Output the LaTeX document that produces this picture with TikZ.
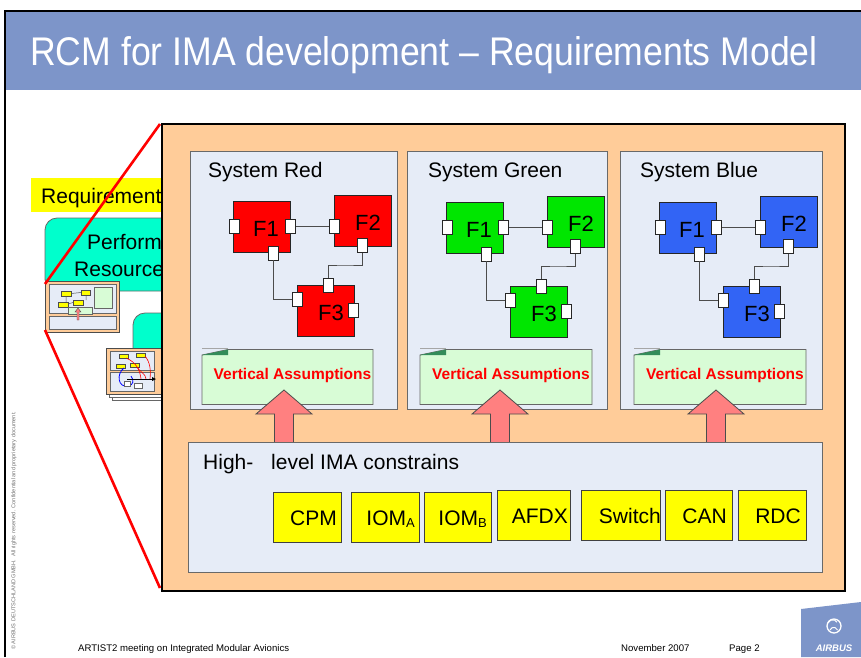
\documentclass[tikz,border=0pt]{standalone}
\usepackage{fontspec}
\setmainfont{Liberation Sans}
\usetikzlibrary{calc}

\definecolor{titleblue}{RGB}{125,149,201}
\definecolor{peach}{RGB}{255,204,153}
\definecolor{panelbg}{RGB}{230,236,247}
\definecolor{panelline}{RGB}{105,105,105}
\definecolor{fred}{RGB}{255,0,0}
\definecolor{fgreen}{RGB}{0,230,0}
\definecolor{fblue}{RGB}{50,100,245}
\definecolor{notegreen}{RGB}{216,252,214}
\definecolor{foldgreen}{RGB}{51,140,90}
\definecolor{arrowpink}{RGB}{255,128,128}
\definecolor{cyanbox}{RGB}{0,255,204}
\definecolor{yellowbox}{RGB}{255,255,0}

\newcommand{\fsz}[1]{\fontsize{#1}{#1}\selectfont}
\newcommand{\subidx}[1]{\raisebox{-0.1em}{\fsz{13}#1}}

\begin{document}
\begin{tikzpicture}[x=1pt,y=-1pt,
  panel/.style={draw=panelline, fill=panelbg, line width=0.8pt},
  fbox/.style={draw=black!85, line width=0.8pt, minimum width=57pt, minimum height=51pt, inner sep=0pt},
  port/.style={draw=black!85, fill=white, line width=0.6pt, minimum width=10pt, minimum height=14pt, inner sep=0pt},
  wire/.style={draw=black!70, line width=0.8pt},
  lbl/.style={font=\fsz{21}, inner sep=0pt, anchor=base west},
  flbl/.style={font=\fsz{22}, inner sep=0pt, anchor=base},
  ylbl/.style={font=\fsz{21}, inner sep=0pt, anchor=base east},
  ybox/.style={draw=black!75, fill=yellowbox, line width=0.8pt},
  notebody/.style={draw=black!60, fill=notegreen, line width=0.8pt},
  uparrow/.style={draw=black!70, fill=arrowpink, line width=0.8pt, line join=miter},
  zoomline/.style={draw=red, line width=2.6pt},
  foot/.style={font=\fsz{9.6}, inner sep=0pt, anchor=base west}
]
\useasboundingbox (0,0) rectangle (861,657);
\fill[white] (0,0) rectangle (861,657);

% slide frame and title bar
\fill[titleblue] (6,12) rectangle (861,90);
\draw[black, line width=2pt] (5,657) -- (5,11) -- (861,11);
\node[anchor=base west, inner sep=0pt, text=white, font=\fsz{40}] (title) at (30,65)
  {\scalebox{0.89}[1]{RCM for IMA development – Requirements Model}};

% --- overview diagram behind the zoomed view ---
\fill[yellowbox] (31,178) rectangle (170,212);
\node[lbl] (req) at (41,203.5) {Requirement};
\draw[draw=black!60, fill=cyanbox, line width=0.8pt, rounded corners=12pt] (45,218) rectangle (200,291);
\node[lbl] (perf) at (87,249.5) {Perform};
\node[lbl] (res) at (74,276.5) {Resource};
\draw[draw=black!60, fill=cyanbox, line width=0.8pt, rounded corners=12pt] (133,313) rectangle (200,392);

% small view of the requirements model
\draw[draw=black!70, fill=peach, line width=0.8pt] (45,281) rectangle (119,332);
\draw[draw=black!60, fill=panelbg, line width=0.5pt] (49,284) rectangle (116,313);
\draw[draw=black!60, fill=panelbg, line width=0.5pt] (49,316) rectangle (116,329);
\draw[black!70, line width=0.5pt] (71,293.5) -- (81,292.5) (66,296) -- (66,304.5) -- (73,302.5) (86,295) -- (86,300);
\foreach \a/\b/\c/\d in {61/291/71/296, 81/290/90/295, 58/302/68/307, 73/300/83/305}
  \draw[draw=black!70, fill=yellowbox, line width=0.5pt] (\a,\b) rectangle (\c,\d);
\draw[draw=black!60, fill=notegreen, line width=0.5pt] (94,287) rectangle (112,308);
\draw[draw=black!60, fill=notegreen, line width=0.5pt] (68,307) rectangle (92,314);
\draw[draw=black!70, fill=arrowpink, line width=0.4pt] (78,308) -- (81,312) -- (79,312) -- (79,320) -- (77,320) -- (77,312) -- (75,312) -- cycle;

% yellow label peeking out
\fill[yellowbox] (155,363) rectangle (170,383);

% small view of the component model (stack of sheets)
\draw[draw=black!60, fill=white, line width=0.5pt] (112,354) rectangle (171,400);
\draw[draw=black!60, fill=white, line width=0.5pt] (109,351) rectangle (168,397);
\draw[draw=black!70, fill=peach, line width=0.8pt] (106,348) rectangle (165,394);
\draw[draw=black!60, fill=panelbg, line width=0.5pt] (110,351) rectangle (154,370);
\draw[draw=black!60, fill=panelbg, line width=0.5pt] (110,372) rectangle (154,391);
\foreach \a/\b/\c/\d in {119/354/128/358, 136/353/145/357, 116/364/125/368, 130/363/139/367}
  \draw[draw=black!70, fill=yellowbox, line width=0.5pt] (\a,\b) rectangle (\c,\d);
\draw[red, line width=0.6pt] (126,358) .. controls (136,362) and (140,370) .. (141,379);
\draw[red, line width=0.6pt] (145,356) .. controls (150,362) and (151,370) .. (150,379);
\draw[red, line width=0.6pt] (137,367) .. controls (140,372) and (146,374) .. (146,379);
\draw[blue, line width=0.8pt] (124,368) .. controls (116,374) and (118,388) .. (128,386) .. controls (134,385) and (134,380) .. (131,376);
\draw[black, line width=1pt] (127,379) -- (152,379);
\fill[black] (152,377) -- (156,379) -- (152,381) -- cycle;
\draw[draw=black!60, fill=white, line width=0.4pt] (124,381) rectangle (130,386);
\draw[draw=black!60, fill=white, line width=0.4pt] (134,383) rectangle (142,388);

% zoom lines
\draw[zoomline] (160,124) -- (45,284);
\draw[zoomline] (45,330) -- (160,588);

% --- zoomed requirements model ---
\draw[draw=black, fill=peach, line width=2pt] (162,124) rectangle (845,591);

% system panels with titles
\foreach \p/\L/\R/\T/\ttl in {r/190/397/208/System Red, g/407/607/428/System Green, b/620/822/640/System Blue}{
  \draw[panel] (\L,151) rectangle (\R,409);
  \node[lbl] (\p-title) at (\T,177) {\ttl};
}

% functions F1..F3 with their ports and links
\foreach \p/\dx/\dy/\col in {r/0/0/fred, g/213/1/fgreen, b/426/1/fblue}{
  \begin{scope}[shift={(\dx,\dy)}]
    \node[fbox, fill=\col] (\p-F1) at (261.5,227) {};
    \node[fbox, fill=\col] (\p-F2) at (362.5,220.5) {};
    \node[fbox, fill=\col] (\p-F3) at (325.5,310.5) {};
    \node[flbl] (\p-L1) at (266,236) {F1};
    \node[flbl] (\p-L2) at (368,230) {F2};
    \node[flbl] (\p-L3) at (331,320) {F3};
    \node[port] (\p-p1l) at (234,226) {};
    \node[port] (\p-p1r) at (290.5,226) {};
    \node[port] (\p-p2l) at (334.5,226) {};
    \node[port] (\p-p1b) at (273,253) {};
    \node[port] (\p-p2b) at (362,245.5) {};
    \node[port] (\p-p3t) at (328.5,285.5) {};
    \node[port] (\p-p3l) at (297,299.5) {};
    \node[port] (\p-p3r) at (353,310.5) {};
    \coordinate (\p-bend) at (345,265);
    \draw[wire] (\p-p1r.east) -- (\p-p2l.west);
    \draw[wire] (\p-p1b.south) |- (\p-p3l.west);
    \draw[wire] (\p-p2b.south) |- (\p-bend) -| (\p-p3t.north);
  \end{scope}
}

% vertical assumption notes
\foreach \p/\L/\R in {r/202/373, g/420/592, b/634/806}{
  \draw[notebody] (\L,355) -- ({\L+26},349.5) -- (\R,349.5) -- (\R,404.5) -- (\L,404.5) -- cycle;
  \fill[foldgreen] (\L,355) -- ({\L+26},349.5) -- ({\L+26},355) -- cycle;
  \draw[black!35, line width=0.5pt] (\L,348.5) -- ({\L+26},348.5);
  \node[font=\fsz{15.5}\bfseries, text=red, inner sep=0pt, anchor=base] (\p-va) at ({(\L+\R)/2+5},379.5) {Vertical Assumptions};
}

% arrows from the IMA constraints up to the assumptions
\foreach \c in {284,500,716}{
  \draw[uparrow] (\c,390) -- ({\c+28},414) -- ({\c+9.5},414) -- ({\c+9.5},443) -- ({\c-9.5},443) -- ({\c-9.5},414) -- ({\c-28},414) -- cycle;
}

% high-level IMA constraints
\draw[panel] (188,442.5) rectangle (822,572);
\node[lbl] (high) at (203,469.5) {High-};
\node[lbl] (level) at (271,469.5) {level IMA constrains};
\foreach \n/\a/\b/\c/\d/\t/\txt in {
  cpm/273/492/341/542/337/CPM,
  ioma/351/492/419/542/415/IOM\subidx{A},
  iomb/424/492/491/542/487/IOM\subidx{B},
  afdx/497/490/570/540/568/AFDX,
  sw/581/490/660/540/661/Switch,
  can/665/490/732/540/727/CAN,
  rdc/738/490/806/540/801/RDC}{
  \draw[ybox] (\a,\b) rectangle (\c,\d);
  \node[ylbl] (\n) at (\t,{(\b+\d)/2+8}) {\txt};
}

% footer
\node[foot] (event) at (78,651.5) {ARTIST2 meeting on Integrated Modular Avionics};
\node[foot] (date) at (621,651.5) {November 2007};
\node[foot] (page) at (729,651.5) {Page 2};
\node[font=\fsz{5.6}, text=black!55, inner sep=0pt, anchor=base west, rotate=90] (copy) at (15.5,650)
  {© AIRBUS DEUTSCHLAND GMBH.\ \ All rights reserved. Confidential and proprietary document.};

% company logo
\fill[titleblue] (801,609) -- (861,602) -- (861,657) -- (801,657) -- cycle;
\draw[white, line width=1.3pt] (834,626) circle (7);
\draw[white, line width=1pt] (828,623) arc[start angle=200, end angle=330, radius=5];
\draw[white, line width=1pt] (830,630) arc[start angle=200, end angle=340, radius=4];
\node[font=\fsz{9.5}\bfseries\itshape, text=white, inner sep=0pt, anchor=base] (logo) at (834,651) {AIRBUS};
\end{tikzpicture}
\end{document}
